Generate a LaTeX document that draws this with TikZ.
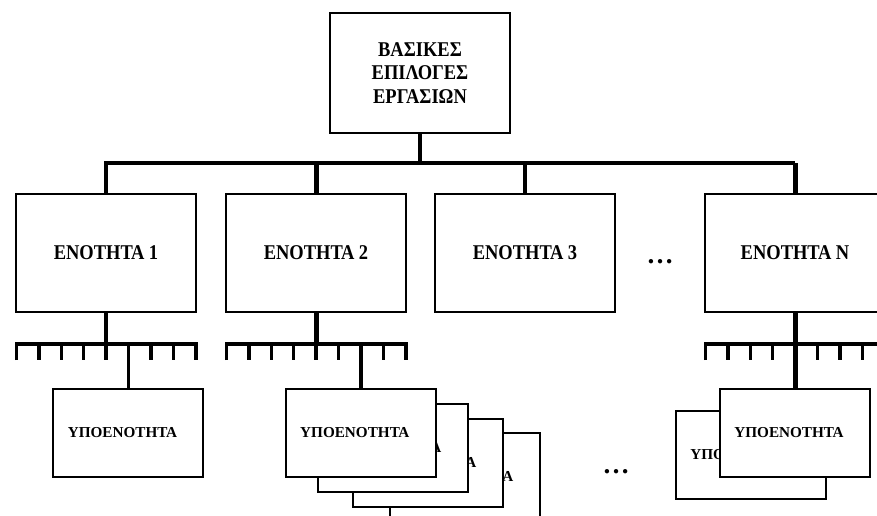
\documentclass[tikz,border=0pt]{standalone}
\usepackage{fontspec}
\setmainfont{Liberation Serif}
\newfontfamily\narrowserif[FakeStretch=0.88]{Liberation Serif}
\usetikzlibrary{calc}

% comb of nine ticks hanging below a section box
\newcommand\drawcomb[1]{%
  \draw[comb] ($(#1.south)+(-89.6,47)$) -- ++(0,-16) -- ++(179.2,0) -- ++(0,16);
  \foreach \k in {-3,...,3}
    \draw[tick] ($(#1.south)+(\k*22.4,31)$) -- ++(0,16);
}
% subsection caption, set a little left of the box centre
\newcommand\subcaption{ΥΠΟΕΝΟΤΗΤΑ\kern12pt\relax}

\begin{document}
\begin{tikzpicture}[x=1pt,y=-1pt,
  box/.style={draw, line width=2pt, fill=white, minimum width=180pt,
    minimum height=118pt, inner sep=0pt, align=center,
    font=\narrowserif\bfseries\fontsize{21}{23.5}\selectfont},
  subbox/.style={draw, line width=2pt, fill=white, minimum width=150pt,
    minimum height=88pt, inner sep=0pt,
    font=\bfseries\fontsize{15.2}{17}\selectfont},
  bus/.style={line width=4pt, line join=miter},
  thin drop/.style={line width=3.2pt},
  thick drop/.style={line width=5pt},
  comb/.style={line width=3.8pt, line join=miter},
  tick/.style={line width=3.4pt},
  dots/.style={font=\bfseries\fontsize{27}{27}\selectfont, inner sep=0pt}
]
\useasboundingbox (0,0) rectangle (877,515);
\clip (0,0) rectangle (877,515);

% root
\node[box, minimum height=120pt] (top) at (420,73) {ΒΑΣΙΚΕΣ\\ΕΠΙΛΟΓΕΣ\\ΕΡΓΑΣΙΩΝ};

% sections
\node[box] (e1) at (106,253) {ΕΝΟΤΗΤΑ 1};
\node[box] (e2) at (316,253) {ΕΝΟΤΗΤΑ 2};
\node[box] (e3) at (525,253) {ΕΝΟΤΗΤΑ 3};
\node[box] (eN) at (795,253) {ΕΝΟΤΗΤΑ Ν};
\node[dots] (dotsA) at (660,262) {…};

% root to sections
\coordinate (busY) at (0,163);
\draw[bus] (top.south) -- (top.south |- busY);
\draw[bus] (e1.north) -- (e1.north |- busY) -- (eN.north |- busY);
\draw[thick drop] (eN.north |- busY) -- (eN.north);
\draw[thick drop] (e2.north |- busY) -- (e2.north);
\draw[thin drop] (e3.north |- busY) -- (e3.north);

% combs below sections
\drawcomb{e1}
\drawcomb{e2}
\drawcomb{eN}

% subsection stacks
\node[subbox] (s2d) at ($(e2.south)+(148.8,164)$) {\subcaption};
\node[subbox] (s2c) at ($(e2.south)+(111.8,150)$) {\subcaption};
\node[subbox] (s2b) at ($(e2.south)+(76.8,135)$) {\subcaption};
\node[subbox] (s2) at ($(e2.south)+(44.8,120)$) {\subcaption};

\node[subbox] (sNb) at ($(eN.south)+(-44,142)$) {\subcaption};
\node[subbox] (sN) at ($(eN.south)+(0,120)$) {\subcaption};

\node[subbox] (s1) at ($(e1.south)+(22.4,120)$) {\subcaption};

\node[dots] (dotsB) at (616,472) {…};

% sections to subsections
\coordinate (combY) at (0,343);
\draw[thin drop] (e1.south) -- (e1.south |- combY);
\draw[thin drop] (s1.north |- combY) -- (s1.north);
\draw[thick drop] (e2.south) -- (e2.south |- combY);
\draw[tick] (s2.north |- combY) -- (s2.north);
\draw[thick drop] (eN.south) -- (sN.north);
\end{tikzpicture}
\end{document}
